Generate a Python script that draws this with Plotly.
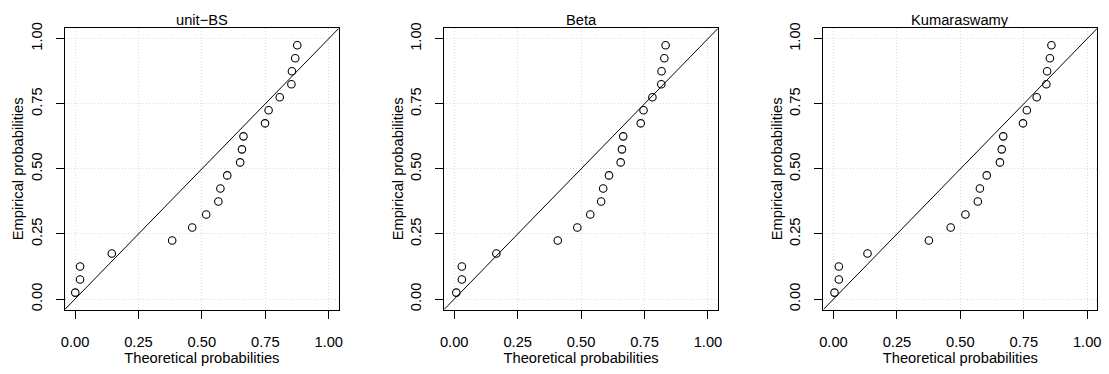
import plotly.graph_objects as go

W, H = 1109, 374

titles = ["unit\u2212BS", "Beta", "Kumaraswamy"]
empirical = [0.025, 0.075, 0.125, 0.175, 0.225, 0.275, 0.325, 0.375, 0.425, 0.475,
             0.525, 0.575, 0.625, 0.675, 0.725, 0.775, 0.825, 0.875, 0.925, 0.975]
theo_unitbs = [0.001, 0.020, 0.020, 0.145, 0.383, 0.462, 0.517, 0.565, 0.573, 0.600,
               0.651, 0.658, 0.664, 0.749, 0.763, 0.807, 0.853, 0.855, 0.868, 0.876]
theo_beta = [0.008, 0.030, 0.030, 0.166, 0.408, 0.485, 0.536, 0.579, 0.587, 0.610,
             0.656, 0.661, 0.666, 0.735, 0.746, 0.781, 0.816, 0.817, 0.828, 0.833]
theo_kuma = [0.004, 0.021, 0.021, 0.134, 0.376, 0.462, 0.520, 0.569, 0.577, 0.604,
             0.656, 0.663, 0.669, 0.747, 0.762, 0.801, 0.839, 0.842, 0.853, 0.859]
tick_vals = [0, 0.25, 0.5, 0.75, 1.0]
tick_text = ["0.00", "0.25", "0.50", "0.75", "1.00"]
axis_range = [-0.04, 1.04]

FONT = "Liberation Sans, Arial, Helvetica, sans-serif"
FS = 14.7

# panel boxes in pixels
lefts = [61.3, 443.3, 825.3]
pw = 276.0
top_px, bot_px = 22.7, 309.3

fig = go.Figure()
series = [theo_unitbs, theo_beta, theo_kuma]
for i, (t, xs) in enumerate(zip(titles, series)):
    k = "" if i == 0 else str(i + 1)
    fig.add_trace(go.Scatter(
        x=axis_range, y=axis_range, mode="lines",
        line=dict(color="black", width=1), xaxis="x" + k, yaxis="y" + k,
        showlegend=False, hoverinfo="skip"))
    fig.add_trace(go.Scatter(
        x=xs, y=empirical, mode="markers",
        marker=dict(symbol="circle-open", size=7.5, color="black", line=dict(width=1.1)),
        xaxis="x" + k, yaxis="y" + k, showlegend=False))
    dom_x = [lefts[i] / W, (lefts[i] + pw) / W]
    dom_y = [1 - bot_px / H, 1 - top_px / H]
    common = dict(range=axis_range, tickvals=tick_vals, ticktext=tick_text,
                  showline=True, mirror=True, linecolor="black", linewidth=1,
                  ticks="outside", ticklen=8, tickcolor="black", tickwidth=1,
                  showgrid=True, gridcolor="#dcdcdc", griddash="1px,2px", gridwidth=1,
                  zeroline=False, tickfont=dict(family=FONT, size=FS, color="black"),
                  fixedrange=True)
    fig.update_layout(**{
        "xaxis" + k: dict(domain=dom_x, anchor="y" + k, ticklabelstandoff=11,
                          title=dict(text="Theoretical probabilities",
                                     font=dict(family=FONT, size=FS, color="black"),
                                     standoff=2),
                          **common),
        "yaxis" + k: dict(domain=dom_y, anchor="x" + k, tickangle=-90,
                          ticklabelstandoff=8,
                          title=dict(text="Empirical probabilities",
                                     font=dict(family=FONT, size=FS, color="black"),
                                     standoff=1),
                          **common),
    })
    fig.add_annotation(text=t, x=(lefts[i] + pw / 2) / W, y=1 - 14 / H,
                       xref="paper", yref="paper", showarrow=False,
                       xanchor="center", yanchor="middle",
                       font=dict(family=FONT, size=FS, color="black"))

fig.update_layout(width=W, height=H, autosize=False,
                  margin=dict(l=0, r=0, t=0, b=0),
                  paper_bgcolor="white", plot_bgcolor="white",
                  font=dict(family=FONT, size=FS, color="black"))

fig.write_html("out.html")
